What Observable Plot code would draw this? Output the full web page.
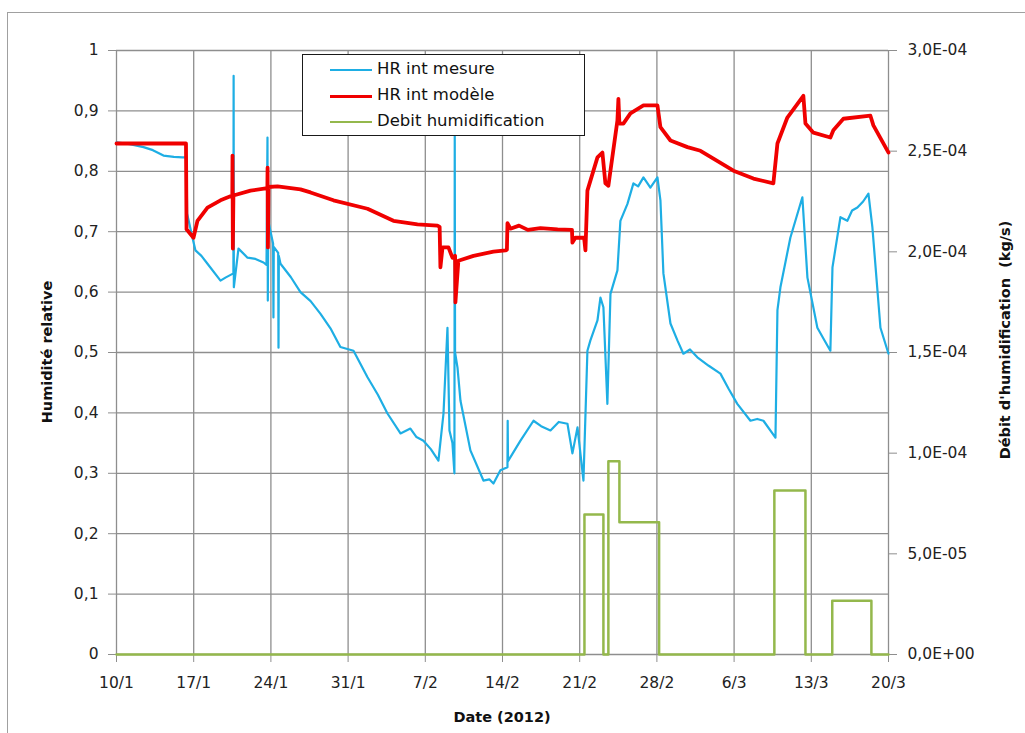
<!DOCTYPE html>
<html><head><meta charset="utf-8">
<script src="https://cdn.jsdelivr.net/npm/d3@7"></script>
<script src="https://cdn.jsdelivr.net/npm/@observablehq/plot@0.6"></script>
<style>
body{margin:0;background:#fff;font-family:"DejaVu Sans",sans-serif;}
#wrap{position:relative;width:1025px;height:733px;overflow:hidden;background:#fff;}
#frame{position:absolute;left:7px;top:12px;width:1060px;height:760px;border:1.5px solid #a0a0a0;box-sizing:border-box;}
#chart{position:absolute;left:0;top:0;}
#legend{position:absolute;left:302px;top:54px;width:283px;height:82px;border:1.5px solid #1a1a1a;background:#fff;box-sizing:border-box;}
.row{position:absolute;left:0;height:20px;font-size:16.5px;color:#111;white-space:nowrap;}
.sw{position:absolute;left:27px;width:42px;top:10px;}
.lab{position:absolute;left:74px;top:0;line-height:20px;}
.title{position:absolute;font-weight:bold;font-size:14.5px;color:#111;white-space:pre;transform:translate(-50%,-50%);}
.rot{transform:translate(-50%,-50%) rotate(-90deg);}
</style></head>
<body>
<div id="wrap">
  <div id="frame"></div>
  <div id="chart"></div>
  <div id="legend"></div>
  <div class="title rot" style="left:47px;top:352px;">Humidité relative</div>
  <div class="title rot" style="left:1005px;top:340px;">Débit d'humidification  (kg/s)</div>
  <div class="title" style="left:502px;top:717px;">Date (2012)</div>
</div>
<script>
// Days elapsed since 10/1/2012 and values
const mesureDay = [0,1.2,2.45,3.3,4.26,5.2,5.98,6.35,6.4,6.89,7.16,7.7,8.25,9.43,9.88,10.6,10.62,10.64,11.06,11.88,12.6,13.33,13.6,13.69,13.72,13.76,14.2,14.23,14.26,14.66,14.69,14.72,14.87,15.8,16.68,17.6,18.5,19.4,20.3,21.49,22.76,23.7,24.57,25.75,26.65,27.2,27.83,28.5,29.19,29.65,30.01,30.19,30.46,30.64,30.67,30.7,30.92,31.19,32.09,33.27,33.8,34.18,34.81,35.45,35.47,35.5,36.63,37.81,38.5,39.35,40.1,40.89,41.34,41.8,42.34,42.7,42.97,43.61,43.88,44.15,44.51,44.79,45.42,45.69,46.33,46.87,47.3,47.78,48.41,49.05,49.32,49.59,50.23,50.86,51.4,52.0,52.67,53.7,54.76,55.5,56.29,57.48,58.1,58.66,59.75,59.93,60.2,61.1,62.19,62.65,63.55,64.2,64.73,64.92,65.64,66.27,66.7,67.18,67.7,68.18,68.54,69.27,70];
const mesureValue = [0.848,0.845,0.84,0.835,0.826,0.824,0.823,0.823,0.73,0.69,0.669,0.66,0.647,0.619,0.624,0.631,0.958,0.608,0.672,0.657,0.655,0.649,0.645,0.856,0.586,0.718,0.68,0.558,0.675,0.665,0.508,0.66,0.647,0.625,0.6,0.585,0.564,0.54,0.509,0.503,0.459,0.43,0.399,0.366,0.374,0.36,0.354,0.34,0.321,0.399,0.541,0.371,0.35,0.3,0.86,0.5,0.475,0.42,0.338,0.288,0.29,0.283,0.305,0.31,0.387,0.32,0.354,0.387,0.378,0.371,0.385,0.382,0.333,0.376,0.288,0.503,0.52,0.553,0.591,0.575,0.415,0.597,0.636,0.718,0.746,0.78,0.775,0.79,0.773,0.79,0.752,0.631,0.548,0.52,0.498,0.505,0.492,0.478,0.465,0.44,0.415,0.387,0.39,0.387,0.359,0.57,0.608,0.69,0.757,0.624,0.541,0.52,0.503,0.641,0.724,0.718,0.735,0.74,0.75,0.763,0.707,0.541,0.498];

const modeleDay = [0,6.3,6.35,6.98,7.34,8.25,9.43,10.5,10.52,10.55,10.6,12.15,13.68,13.7,13.73,13.78,14.6,16.68,17.59,19.67,22.76,25.11,27.29,29.1,29.3,29.37,29.56,30.1,30.46,30.7,30.73,31.0,32.37,34.18,35.27,35.4,35.45,35.72,36.5,37.3,38.44,40.0,41.3,41.34,41.61,42.4,42.52,42.7,43.61,44.06,44.33,44.6,45.42,45.51,45.6,45.96,46.6,47.78,49.05,49.32,50.23,51.77,52.95,55.94,57.75,59.56,59.93,60.83,62.28,62.47,63.19,64.73,65.0,65.91,68.36,68.63,70];
const modeleValue = [0.846,0.846,0.704,0.69,0.718,0.74,0.752,0.76,0.826,0.672,0.76,0.768,0.772,0.806,0.674,0.774,0.775,0.77,0.765,0.752,0.738,0.718,0.712,0.71,0.708,0.641,0.674,0.674,0.657,0.66,0.583,0.652,0.66,0.667,0.669,0.67,0.714,0.705,0.71,0.703,0.706,0.704,0.703,0.682,0.69,0.69,0.669,0.768,0.823,0.831,0.78,0.776,0.884,0.92,0.879,0.879,0.896,0.909,0.909,0.873,0.851,0.84,0.834,0.801,0.788,0.78,0.846,0.889,0.925,0.879,0.864,0.856,0.868,0.887,0.892,0.876,0.831];

const debitDay = [0,42.43,44.15,44.6,45.6,49.2,59.65,62.47,64.9,68.45,70];
const debitValue = [0,6.95e-5,0,9.6e-5,6.57e-5,0,8.15e-5,0,2.67e-5,0,0];

const xTickDates = ["2012-01-10","2012-01-17","2012-01-24","2012-01-31","2012-02-07","2012-02-14","2012-02-21","2012-02-28","2012-03-06","2012-03-13","2012-03-20"];
const leftTicks = [0,0.1,0.2,0.3,0.4,0.5,0.6,0.7,0.8,0.9,1];
const rightTicks = [0,5e-5,1e-4,1.5e-4,2e-4,2.5e-4,3e-4];
const rightLabels = ["0,0E+00","5,0E-05","1,0E-04","1,5E-04","2,0E-04","2,5E-04","3,0E-04"];
const debitMax = 3e-4;

const seriesNames = ["HR int mesure","HR int modèle","Debit humidification"];
const seriesColors = ["#1eaee4","#f00000","#94b84c"];
const seriesWidths = [2.2,3.8,2.5];

const t0 = Date.UTC(2012,0,10);
const toDate = d => new Date(t0 + d*864e5);
const mesure = mesureDay.map((d,i)=>({date:toDate(d), value:mesureValue[i]}));
const modele = modeleDay.map((d,i)=>({date:toDate(d), value:modeleValue[i]}));
const debit = debitDay.map((d,i)=>({date:toDate(d), value:debitValue[i]/debitMax}));
const xTicks = xTickDates.map(s=>new Date(s+"T00:00:00Z"));
const fmtX = d3.utcFormat("%-d/%-m");

const plot = Plot.plot({
  width:1025, height:733,
  marginLeft:116, marginRight:137, marginTop:50, marginBottom:79,
  style:{fontFamily:"DejaVu Sans, sans-serif", fontSize:"15.5px", color:"#222", background:"transparent"},
  x:{type:"utc", domain:[toDate(0), toDate(70)]},
  y:{domain:[0,1]},
  marks:[
    Plot.gridX(xTicks, {stroke:"#8e8e8e", strokeOpacity:1, strokeWidth:1.3}),
    Plot.gridY(leftTicks, {stroke:"#8e8e8e", strokeOpacity:1, strokeWidth:1.3}),
    Plot.axisX(xTicks, {tickSize:8, tickPadding:14, tickFormat:fmtX, label:null, stroke:"#8e8e8e", fill:"#222"}),
    Plot.axisY(leftTicks, {anchor:"left", tickSize:8, tickPadding:10, tickFormat:d=>String(d).replace(".",","), label:null, stroke:"#8e8e8e", fill:"#222"}),
    Plot.axisY(rightTicks.map(v=>v/debitMax), {anchor:"right", tickSize:8, tickPadding:11, tickFormat:d=>rightLabels[Math.round(d*6)], label:null, stroke:"#8e8e8e", fill:"#222"}),
    Plot.line(mesure, {x:"date", y:"value", stroke:seriesColors[0], strokeWidth:seriesWidths[0], strokeLinejoin:"round"}),
    Plot.line(modele, {x:"date", y:"value", stroke:seriesColors[1], strokeWidth:seriesWidths[1], strokeLinejoin:"round"}),
    Plot.line(debit, {x:"date", y:"value", curve:"step-after", stroke:seriesColors[2], strokeWidth:seriesWidths[2]})
  ]
});
document.getElementById("chart").appendChild(plot);

const leg = document.getElementById("legend");
seriesNames.forEach((n,i)=>{
  const r = document.createElement("div");
  r.className="row"; r.style.top = (4 + i*26) + "px";
  r.innerHTML = `<span class="sw" style="border-top:${Math.max(2,seriesWidths[i]-0.8)}px solid ${seriesColors[i]}"></span><span class="lab">${n}</span>`;
  leg.appendChild(r);
});
</script>
</body></html>
